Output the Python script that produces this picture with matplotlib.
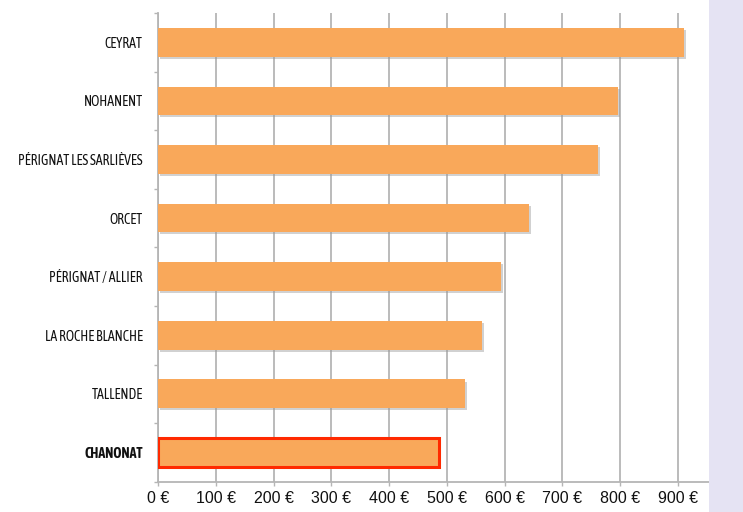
import numpy as np
import matplotlib
matplotlib.use("Agg")
import matplotlib.pyplot as plt
from matplotlib import patheffects as pe
from matplotlib import font_manager as fm
from matplotlib.textpath import TextPath
from matplotlib.font_manager import FontProperties
from matplotlib.patches import Rectangle

communes = ["CEYRAT", "NOHANENT", "PÉRIGNAT LES SARLIÈVES", "ORCET",
            "PÉRIGNAT / ALLIER", "LA ROCHE BLANCHE", "TALLENDE", "CHANONAT"]
montants = [910, 796, 761, 642, 594, 561, 531, 486]
highlight = "CHANONAT"
xticks = [0, 100, 200, 300, 400, 500, 600, 700, 800, 900]

BAR = "#F9A85A"
EDGE_HI = "#FF2A00"
GRID = "#B5B5B5"
LAVENDER = "#E5E3F3"
LABEL_PT = 10       # gives ~10 px caps like the reference
LABEL_MAX_PX = 137  # longest label width in the reference


def as_int(w):
    try:
        return int(w)
    except (TypeError, ValueError):
        return {"normal": 400, "regular": 400, "bold": 700}.get(str(w).lower(), 0)


# upright weights per family, so we only take a face with both regular and bold
weights = {}
for f in fm.fontManager.ttflist:
    if f.style == "normal":
        weights.setdefault(f.name, set()).add(as_int(f.weight))

# the labels use a condensed Helvetica; pick the installed narrow face whose
# longest label at LABEL_PT comes closest to the reference width
wanted = ["Liberation Sans Narrow", "Archivo Narrow", "Barlow Semi Condensed",
          "Asap Condensed", "Roboto Condensed", "Open Sans Condensed",
          "Barlow Condensed"]
longest = max(communes, key=len)
best, best_w = None, None
for name in wanted:
    ws = weights.get(name, set())
    if 400 not in ws or max(ws) < 600:
        continue
    w = TextPath((0, 0), longest, size=LABEL_PT * 100 / 72,
                 prop=FontProperties(family=name, weight="normal")).get_extents().width
    if best is None or (w <= LABEL_MAX_PX and (best_w > LABEL_MAX_PX or w > best_w)):
        best, best_w = name, w
label_family = [best or "Liberation Sans", "DejaVu Sans"]

W, H = 743, 512
fig = plt.figure(figsize=(W / 100, H / 100), dpi=100)
fig.patch.set_facecolor("white")
fig.patches.append(Rectangle((709 / W, 0), 1 - 709 / W, 1, transform=fig.transFigure,
                             facecolor=LAVENDER, edgecolor="none", zorder=0))

ax = fig.add_axes([158 / W, 1 - 481.7 / H, (735.7 - 158) / W, (481.7 - 13) / H])
ax.set_facecolor("none")

n = len(communes)
ypos = np.arange(n)
shadow = [pe.SimplePatchShadow(offset=(1.5, -1.5), shadow_rgbFace="#9a9a9a", alpha=0.45),
          pe.Normal()]
for i, (name, val) in enumerate(zip(communes, montants)):
    hi = name == highlight
    ax.barh(i, val, height=0.49, color=BAR,
            edgecolor=EDGE_HI if hi else "none", linewidth=2.2 if hi else 0,
            zorder=3, path_effects=shadow)

ax.set_xlim(0, 1000)
ax.set_ylim(n - 0.5, -0.5)
ax.set_xticks(xticks)
ax.set_xticklabels([f"{v} €" for v in xticks], fontsize=11.5, color="#111111",
                   family=["Liberation Sans", "DejaVu Sans"])
ax.grid(axis="x", color=GRID, linewidth=1.3, zorder=1)
ax.tick_params(axis="x", length=3, width=1, color=GRID, pad=4)

ax.set_yticks(ypos)
ax.set_yticklabels(communes, fontsize=LABEL_PT, color="#111111",
                   family=label_family, fontweight="normal")
ax.tick_params(axis="y", which="major", length=0, pad=11)
ax.set_yticks(np.arange(n + 1) - 0.5, minor=True)
ax.tick_params(axis="y", which="minor", length=3, width=1, color=GRID)
for lbl in ax.get_yticklabels():
    if lbl.get_text() == highlight:
        lbl.set_fontweight("bold")

for side in ("top", "right"):
    ax.spines[side].set_visible(False)
for side in ("left", "bottom"):
    ax.spines[side].set_color(GRID)
    ax.spines[side].set_linewidth(1.3)

# shrink only if the chosen face still overflows the label column
r = fig.canvas.get_renderer()
widest = max(l.get_window_extent(r).width for l in ax.get_yticklabels())
if widest > LABEL_MAX_PX:
    size = LABEL_PT * LABEL_MAX_PX / widest
    for lbl in ax.get_yticklabels():
        lbl.set_fontsize(size)

fig.savefig("out.png", dpi=100, facecolor=fig.get_facecolor())
